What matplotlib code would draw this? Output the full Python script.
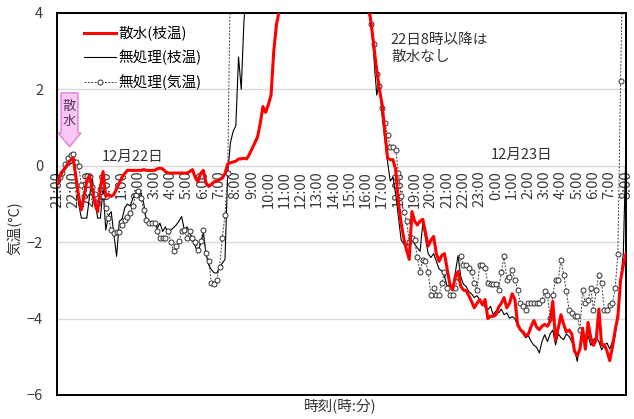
import numpy as np
import matplotlib
matplotlib.use("Agg")
import matplotlib.pyplot as plt
from matplotlib.patches import Polygon

plt.rcParams['font.family'] = ['Noto Sans CJK JP', 'DejaVu Sans']

# 10-minute readings from 21:00 (Dec 21) to 8:00 (Dec 23), in °C
sample_minutes = 10

spray_branch = [
    -0.5, -0.3, -0.15, -0.05, 0.05, 0.15,      # 21時
    0.2, -0.3, -0.8, -1.15, -0.8, -0.4,        # 22時
    -0.25, -0.6, -1.0, -1.2, -0.6, -0.15,      # 23時
    -0.8, -0.75, -0.8, -0.75, -0.6, -0.45,     # 0時
    -0.3, -0.2, -0.12, -0.12, -0.12, -0.12,    # 1時
    -0.12, -0.12, -0.1, -0.12, -0.12, -0.12,   # 2時
    -0.12, -0.08, -0.06, -0.08, -0.15, -0.19,  # 3時
    -0.19, -0.19, -0.19, -0.19, -0.19, -0.19,  # 4時
    -0.19, -0.15, -0.1, -0.3, -0.42, -0.2,     # 5時
    -0.12, -0.45, -0.54, -0.48, -0.42, -0.4,   # 6時
    -0.36, -0.32, -0.2, 0.05, 0.08, 0.1,       # 7時
    0.12, 0.18, 0.18, 0.2, 0.18, 0.3,          # 8時
    0.45, 0.6, 0.75, 1.1, 1.55, 1.4,           # 9時
    1.6, 1.85, 3.0, 3.7, 4.05, 4.6,            # 10時
    5.2, 5.8, 6.4, 7.0, 7.5, 8.0,              # 11時
    8.4, 8.8, 9.2, 9.5, 9.8, 10.0,             # 12時
    10.2, 10.4, 10.5, 10.6, 10.6, 10.5,        # 13時
    10.4, 10.2, 10.0, 9.7, 9.4, 9.0,           # 14時
    8.5, 8.0, 7.4, 6.8, 6.2, 5.5,              # 15時
    4.8, 4.2, 3.7, 3.1, 2.5, 2.0,              # 16時
    1.6, 0.9, 0.2, 0.16, 0.16, -0.1,           # 17時
    -0.95, -1.5, -1.9, -2.2, -2.45, -1.2,      # 18時
    -1.45, -1.55, -1.45, -1.4, -1.75, -2.1,    # 19時
    -1.95, -1.85, -2.3, -2.5, -2.35, -2.3,     # 20時
    -2.7, -3.1, -3.25, -2.9, -2.77, -3.15,     # 21時
    -3.25, -3.27, -3.4, -3.55, -3.72, -3.6,    # 22時
    -3.5, -3.64, -3.5, -4.0, -3.94, -3.94,     # 23時
    -3.9, -3.7, -3.6, -3.45, -3.72, -3.6,      # 0時
    -3.35, -3.5, -4.15, -4.29, -4.35, -4.45,   # 1時
    -4.4, -4.2, -4.05, -4.22, -4.29, -4.2,     # 2時
    -4.15, -4.2, -4.07, -3.55, -4.55, -4.25,   # 3時
    -3.9, -4.15, -4.35, -4.3, -4.4, -4.85,     # 4時
    -4.97, -4.8, -4.25, -4.8, -4.1, -4.5,      # 5時
    -4.7, -4.55, -3.75, -4.7, -4.68, -4.85,    # 6時
    -5.1, -4.75, -4.3, -3.95, -3.0, -2.6,      # 7時
    -2.3,                                      # 8時
]

control_branch = [
    -0.3, -0.45, -0.2, -0.1, 0.0, 0.05,
    0.1, -0.4, -1.0, -1.37, -1.37, -1.37,
    -0.8, -0.3, -0.9, -1.37, -1.37, -0.6,
    -1.68, -1.3, -1.2, -1.8, -2.37, -1.45,
    -1.4, -1.1, -1.0, -1.05, -0.85, -0.72,
    -0.63, -0.75, -0.98, -1.45, -1.55, -1.45,
    -1.5, -1.63, -1.5, -1.72, -1.6, -1.75,
    -1.68, -1.62, -1.55, -1.45, -1.33, -1.68,
    -1.6, -1.75, -1.94, -2.1, -2.28, -2.03,
    -1.76, -2.3, -2.6, -2.72, -2.8, -2.81,
    -2.65, -2.55, -2.45, -0.2, 0.6, 0.9,
    1.05, 2.85, 2.0, 3.8, 4.6, 5.4,
    6.2, 7.0, 7.8, 8.5, 9.2, 9.8,
    10.4, 11.0, 11.5, 12.0, 12.4, 12.8,
    13.1, 13.4, 13.6, 13.8, 13.9, 14.0,
    14.0, 14.0, 13.9, 13.8, 13.6, 13.4,
    13.1, 12.8, 12.4, 12.0, 11.6, 11.1,
    10.6, 10.1, 9.6, 9.1, 8.6, 8.1,
    7.6, 7.1, 6.6, 6.1, 5.6, 5.1,
    4.6, 4.0, 3.7, 2.8, 1.85, 2.2,
    1.3, 0.7, 0.1, -0.4, -0.3, -0.75,
    -1.33, -1.94, -2.05, -2.1, -2.0, -1.9,
    -2.05, -2.15, -2.24, -1.5, -1.9, -2.3,
    -2.4, -2.3, -2.5, -2.7, -2.75, -2.9,
    -3.16, -3.1, -3.25, -2.8, -2.35, -2.9,
    -3.1, -3.16, -3.3, -3.35, -3.45, -3.4,
    -3.5, -3.6, -3.7, -3.77, -3.68, -3.9,
    -3.8, -3.85, -3.75, -3.9, -3.85, -3.99,
    -3.95, -4.0, -4.2, -4.3, -4.4, -4.5,
    -4.45, -4.6, -4.7, -4.75, -4.9, -4.6,
    -4.42, -4.6, -4.4, -4.3, -4.69, -4.4,
    -4.5, -4.55, -4.4, -4.47, -4.6, -4.8,
    -5.12, -4.7, -4.5, -4.65, -4.45, -4.7,
    -4.55, -4.5, -4.6, -4.82, -4.7, -4.64,
    -4.8, -4.6, -4.47, -3.8, -3.0, -2.3,
    0.5,
]

control_air = [
    -0.4, -0.3, -0.18, 0.05, 0.2, 0.29,
    0.3, 0.1, 0.0, -0.5, -0.8, -0.28,
    -0.3, -0.55, -0.75, -0.98, -0.6, -0.8,
    -1.1, -1.37, -1.68, -1.75, -1.72, -1.72,
    -1.55, -1.41, -1.35, -1.24, -1.05, -0.76,
    -0.67, -0.85, -1.15, -1.41, -1.5, -1.5,
    -1.5, -1.7, -1.89, -1.89, -1.89, -1.7,
    -2.0, -2.24, -2.11, -1.98, -1.7, -1.68,
    -1.89, -1.7, -1.89, -2.0, -2.2, -1.98,
    -1.68, -2.28, -2.5, -3.07, -3.1, -2.98,
    -2.64, -1.89, -1.28, -0.2, 5.0, 6.0,
    6.8, 7.5, 8.1, 8.6, 9.0, 9.4,
    9.8, 10.1, 10.4, 10.7, 11.0, 11.2,
    11.4, 11.6, 11.8, 12.0, 12.1, 12.2,
    12.3, 12.4, 12.5, 12.5, 12.6, 12.6,
    12.6, 12.5, 12.4, 12.3, 12.1, 11.9,
    11.7, 11.4, 11.1, 10.8, 10.4, 10.0,
    9.6, 9.2, 8.8, 8.4, 8.0, 7.6,
    7.2, 6.8, 6.4, 6.0, 5.6, 5.2,
    4.8, 4.3, 3.7, 3.2, 2.4, 2.1,
    1.5, 1.12, 0.8, 0.5, 0.5, 0.42,
    -0.2, -0.8, -1.2, -1.45, -2.0, -1.89,
    -1.95, -2.4, -2.77, -2.46, -2.5, -2.77,
    -3.38, -3.2, -3.38, -3.38, -3.07, -2.77,
    -3.2, -3.38, -3.38, -3.2, -2.9, -2.37,
    -2.59, -2.6, -2.68, -2.77, -3.07, -3.25,
    -2.59, -2.59, -2.68, -3.07, -3.1, -3.1,
    -3.1, -3.25, -2.77, -2.37, -2.98, -2.9,
    -2.72, -2.98, -3.25, -3.6, -3.68, -3.77,
    -3.6, -3.6, -3.6, -3.6, -3.6, -3.5,
    -3.29, -3.38, -3.99, -3.38, -2.98, -2.98,
    -2.46, -2.85, -3.29, -3.77, -3.86, -3.94,
    -3.94, -4.29, -3.25, -3.6, -3.5, -3.2,
    -3.77, -3.25, -2.85, -3.07, -3.77, -3.77,
    -3.64, -3.6, -3.2, -2.3, 2.23, 6.0,
    7.0,
]

hour_labels = [
    "21:00", "22:00", "23:00",
    "0:00", "1:00", "2:00", "3:00", "4:00", "5:00", "6:00", "7:00",
    "8:00", "9:00", "10:00", "11:00", "12:00", "13:00", "14:00", "15:00",
    "16:00", "17:00", "18:00", "19:00", "20:00", "21:00", "22:00", "23:00",
    "0:00", "1:00", "2:00", "3:00", "4:00", "5:00", "6:00", "7:00", "8:00",
]

series_labels = ["散水(枝温)", "無処理(枝温)", "無処理(気温)"]

elapsed_h = np.arange(len(spray_branch)) * sample_minutes / 60.0
hour_pos = np.arange(len(hour_labels))

W, H = 634, 419
fig = plt.figure(figsize=(W / 100, H / 100), dpi=100, facecolor="white")
ax = fig.add_axes([57 / W, 1 - 395 / H, 569 / W, 382 / H])

# hour labels hang just below the 0 °C line, drawn underneath the data
axt = ax.twiny()
axt.set_xlim(0, hour_pos[-1])
for s in axt.spines.values():
    s.set_visible(False)
axt.spines["bottom"].set_position(("data", 0))
axt.xaxis.set_ticks_position("bottom")
axt.set_xticks(hour_pos)
axt.set_xticklabels(hour_labels, rotation=90)
axt.tick_params(axis="x", length=0, pad=3.5, labelsize=10.5, labelcolor="#3a3a3a")
axt.set_zorder(ax.get_zorder() - 1)
ax.patch.set_visible(False)
axt.patch.set_visible(False)

ax.set_xlim(0, hour_pos[-1])
ax.set_ylim(-6, 4)
ax.set_yticks([-6, -4, -2, 0, 2, 4])
ax.set_xticks([])
ax.grid(axis="y", color="#d9d9d9", lw=1.0)
ax.set_axisbelow(True)
for s in ax.spines.values():
    s.set_color("black")
    s.set_linewidth(1.4)
ax.tick_params(axis="y", length=0, pad=10, labelsize=10.5, labelcolor="#3a3a3a")

ax.plot(elapsed_h, spray_branch, color="#ff0000", lw=2.2, label=series_labels[0], zorder=5)
ax.plot(elapsed_h, control_branch, color="black", lw=0.8, label=series_labels[1], zorder=3)
ax.plot(elapsed_h, control_air, color="#404040", lw=0.7, ls=(0, (2, 1.5)),
        marker="o", ms=3.6, mfc="white", mec="#303030", mew=0.7,
        label=series_labels[2], zorder=4)

ax.legend(loc="upper left", bbox_to_anchor=(0.047, 0.966), frameon=False,
          borderpad=0, borderaxespad=0, handlelength=2.2, handletextpad=0.2,
          labelspacing=0.6, fontsize=10.5)

# spraying marker
arrow = Polygon([(0.25, 1.91), (1.29, 1.91), (1.29, 0.86), (1.48, 0.86),
                 (0.77, 0.50), (0.06, 0.86), (0.25, 0.86)],
                closed=True, facecolor="#fac6f6", edgecolor="#e27ddc", lw=1.0, zorder=6)
ax.add_patch(arrow)
ax.text(0.77, 1.36, "散\n水", ha="center", va="center", fontsize=9.5,
        color="#5a3a5a", linespacing=1.15, zorder=7)

ax.text(4.67, 0.24, "12月22日", ha="center", va="center", fontsize=10.5, color="#333333")
ax.text(28.6, 0.29, "12月23日", ha="center", va="center", fontsize=10.5, color="#333333")
ax.text(20.54, 3.07, "22日8時以降は\n散水なし", ha="left", va="center", fontsize=10.5,
        color="#333333", linespacing=1.35)

fig.text(340 / W, 1 - 407 / H, "時刻(時:分)", ha="center", va="center",
         fontsize=10.5, color="#333333")
fig.text(15 / W, 1 - 228 / H, "気温(°C)", ha="center", va="center", rotation=90,
         fontsize=10.5, color="#333333")

fig.savefig("out.png", dpi=100, facecolor="white")
